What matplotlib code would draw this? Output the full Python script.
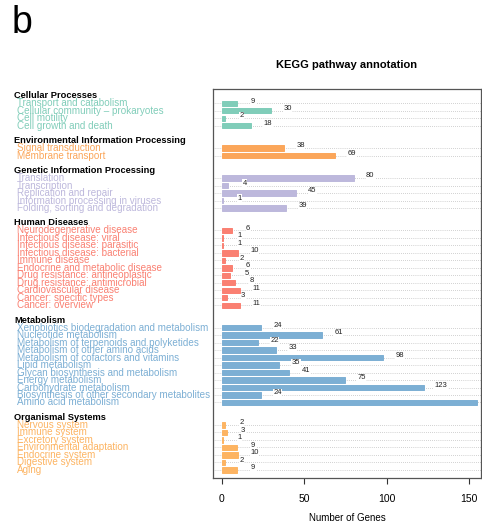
import matplotlib
matplotlib.use('Agg')
import matplotlib.pyplot as plt
import matplotlib.transforms as mtransforms

plt.rcParams['font.family'] = ['Liberation Sans', 'DejaVu Sans']

# KEGG level-1 groups, their level-2 pathways and gene counts
groups = ['Cellular Processes', 'Environmental Information Processing',
          'Genetic Information Processing', 'Human Diseases',
          'Metabolism', 'Organismal Systems']

cellular = ['Transport and catabolism', 'Cellular community \u2013 prokaryotes',
            'Cell motility', 'Cell growth and death']
cellular_n = [9, 30, 2, 18]

environmental = ['Signal transduction', 'Membrane transport']
environmental_n = [38, 69]

genetic = ['Translation', 'Transcription', 'Replication and repair',
           'Information processing in viruses', 'Folding, sorting and degradation']
genetic_n = [80, 4, 45, 1, 39]

human = ['Neurodegenerative disease', 'Infectious disease: viral',
         'Infectious disease: parasitic', 'Infectious disease: bacterial',
         'Immune disease', 'Endocrine and metabolic disease',
         'Drug resistance: antineoplastic', 'Drug resistance: antimicrobial',
         'Cardiovascular disease', 'Cancer: specific types', 'Cancer: overview']
human_n = [6, 1, 1, 10, 2, 6, 5, 8, 11, 3, 11]

metabolism = ['Xenobiotics biodegradation and metabolism', 'Nucleotide metabolism',
              'Metabolism of terpenoids and polyketides', 'Metabolism of other amino acids',
              'Metabolism of cofactors and vitamins', 'Lipid metabolism',
              'Glycan biosynthesis and metabolism', 'Energy metabolism',
              'Carbohydrate metabolism', 'Biosynthesis of other secondary metabolites',
              'Amino acid metabolism']
metabolism_n = [24, 61, 22, 33, 98, 35, 41, 75, 123, 24, 155]

organismal = ['Nervous system', 'Immune system', 'Excretory system',
              'Environmental adaptation', 'Endocrine system', 'Digestive system', 'Aging']
organismal_n = [2, 3, 1, 9, 10, 2, 9]

group_colors = ['#80cdb9', '#fba65a', '#bdb8dc', '#fa8072', '#7cafd4', '#fdb462']

items = [cellular, environmental, genetic, human, metabolism, organismal]
counts = [cellular_n, environmental_n, genetic_n, human_n, metabolism_n, organismal_n]

fig = plt.figure(figsize=(4.82, 5.24), dpi=100)
ax = fig.add_axes([0.4426, 0.0884, 0.5554, 0.7418])
xmin, xmax = -5.1, 157.3
ax.set_xlim(xmin, xmax)

# label column: x in figure coords, y in data coords
trans = mtransforms.blended_transform_factory(fig.transFigure, ax.transData)

row = 0
for g, names, vals, col in zip(groups, items, counts, group_colors):
    ax.text(14 / 482, row - 1, g, transform=trans, fontsize=6.7, fontweight='bold',
            color='black', va='center', ha='left')
    for name, v in zip(names, vals):
        ax.plot([xmin, xmax], [row, row], color='#a8a8a8', lw=0.5,
                ls=(0, (1, 2)), zorder=1)
        ax.barh(row, v, height=0.72, color=col, edgecolor=col, lw=0.7, zorder=2)
        ax.text(v + 10, row - 0.3, str(v), fontsize=5.5, ha='center', va='center',
                color='#222222', zorder=3, clip_on=True,
                bbox=dict(facecolor='white', edgecolor='none', pad=0.3))
        ax.text(17 / 482, row, name, transform=trans, fontsize=7.1, color=col,
                va='center', ha='left')
        row += 1
    row += 2

ax.set_ylim(50.05, -1.91)
ax.set_yticks([])
ax.set_xticks([0, 50, 100, 150])
ax.tick_params(axis='x', labelsize=7.5, length=4.5, width=0.8, pad=7, color='#333333')
for s in ax.spines.values():
    s.set_color('#555555')
    s.set_linewidth(0.9)

fig.text(347 / 482, 1 - 65 / 524, 'KEGG pathway annotation', fontsize=8,
         fontweight='bold', ha='center', va='center')
fig.text(347 / 482, 1 - 518 / 524, 'Number of Genes', fontsize=7,
         ha='center', va='center')
fig.text(12 / 482, 1 - 33 / 524, 'b', fontsize=27, ha='left', va='baseline')

fig.savefig('out.png', dpi=100)
